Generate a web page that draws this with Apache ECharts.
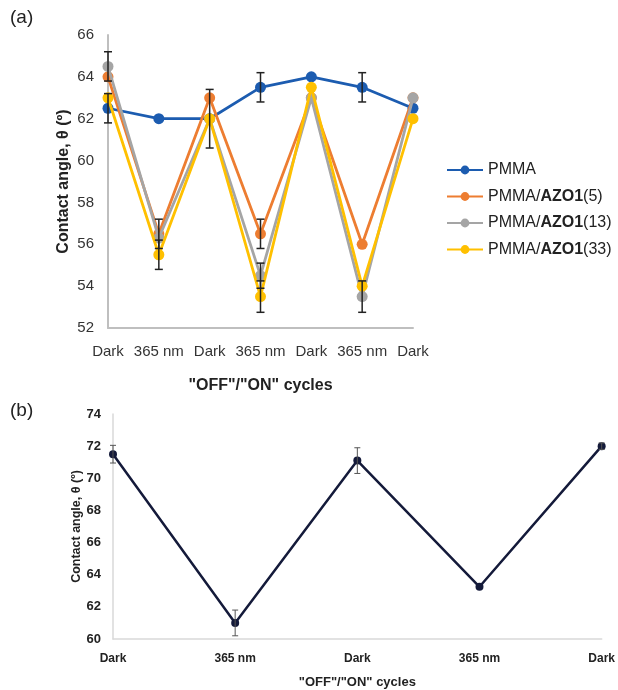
<!DOCTYPE html>
<html><head><meta charset="utf-8">
<script src="https://cdn.jsdelivr.net/npm/echarts@6/dist/echarts.min.js"></script>
<style>html,body{margin:0;padding:0;background:#fff}#c{width:618px;height:690px}</style>
</head><body><div id="c"></div>
<script>
// ---- Data (a) ----
const catsA = ['Dark','365 nm','Dark','365 nm','Dark','365 nm','Dark'];
const namesA = ['PMMA','PMMA/AZO1(5)','PMMA/AZO1(13)','PMMA/AZO1(33)'];
const pmma   = [62.5, 62.0, 62.0, 63.5, 64.0, 63.5, 62.5];
const azo5   = [64.0, 56.5, 63.0, 56.5, 63.0, 56.0, 63.0];
const azo13  = [64.5, 56.3, 62.0, 54.5, 63.0, 53.5, 63.0];
const azo33  = [63.0, 55.5, 62.0, 53.5, 63.5, 54.0, 62.0];
const errPmma  = [0.7, 0, 0, 0.7, 0, 0.7, 0];
const errAzo5  = [0, 0.7, 0, 0.7, 0, 0, 0];
const errAzo13 = [0.7, 0, 0, 0.6, 0, 0.75, 0];
const errAzo33 = [0, 0.7, 1.4, 0.75, 0, 0, 0];
const yTicksA = [52, 54, 56, 58, 60, 62, 64, 66];
// ---- Data (b) ----
const catsB = ['Dark','365 nm','Dark','365 nm','Dark'];
const valsB = [71.5, 61.0, 71.1, 63.25, 72.0];
const errB  = [0.55, 0.8, 0.8, 0, 0.2];
const yTicksB = [60, 62, 64, 66, 68, 70, 72, 74];

const colorsA = ['#1c5cb0', '#ed7d31', '#a5a5a5', '#ffc000'];
const valsA = [pmma, azo5, azo13, azo33];
const errsA = [errPmma, errAzo5, errAzo13, errAzo33];

function errSeries(vals, errs, xi, yi, color, lw, cap, z) {
  const data = [];
  vals.forEach((v, i) => { if (errs[i] > 0) data.push([i, v - errs[i], v + errs[i]]); });
  return {
    type: 'custom', xAxisIndex: xi, yAxisIndex: yi, z: z, silent: true,
    data: data,
    renderItem: function (params, api) {
      const lo = api.coord([api.value(0), api.value(1)]);
      const hi = api.coord([api.value(0), api.value(2)]);
      const st = { stroke: color, lineWidth: lw };
      return { type: 'group', children: [
        { type: 'line', shape: { x1: lo[0], y1: lo[1], x2: hi[0], y2: hi[1] }, style: st },
        { type: 'line', shape: { x1: lo[0]-cap, y1: lo[1], x2: lo[0]+cap, y2: lo[1] }, style: st },
        { type: 'line', shape: { x1: hi[0]-cap, y1: hi[1], x2: hi[0]+cap, y2: hi[1] }, style: st }
      ]};
    }
  };
}

const F = 'Liberation Sans, Arial, sans-serif';
const series = [];
namesA.forEach((n, k) => {
  series.push({
    name: n, type: 'line', xAxisIndex: 0, yAxisIndex: 0, data: valsA[k],
    symbol: 'circle', symbolSize: 11, z: 2 + k,
    lineStyle: { color: colorsA[k], width: 2.8 },
    itemStyle: { color: colorsA[k] }
  });
});
namesA.forEach((n, k) => series.push(errSeries(valsA[k], errsA[k], 0, 0, '#222', 1.5, 4, 10)));
series.push({
  name: 'B', type: 'line', xAxisIndex: 1, yAxisIndex: 1, data: valsB,
  symbol: 'circle', symbolSize: 8, z: 2,
  lineStyle: { color: '#141a3a', width: 2.5 }, itemStyle: { color: '#141a3a' }
});
series.push(errSeries(valsB, errB, 1, 1, '#555', 1, 3, 10));

const option = {
  animation: false,
  textStyle: { fontFamily: F },
  graphic: [
    { type: 'text', left: 10, top: 8, style: { text: '(a)', font: '19px ' + F, fill: '#222' } },
    { type: 'text', left: 10, top: 401, style: { text: '(b)', font: '19px ' + F, fill: '#222' } }
  ],
  legend: {
    orient: 'vertical', left: 441, top: 157, itemGap: 10.5,
    itemWidth: 36, itemHeight: 11,
    data: namesA,
    formatter: function (n) { return n.replace('AZO1', '{b|AZO1}'); },
    textStyle: { fontSize: 16, color: '#222', fontFamily: F, rich: { b: { fontWeight: 'bold', fontSize: 16, color: '#222', fontFamily: F } } }
  },
  grid: [
    { left: 108, right: 205, top: 35, bottom: 362 },
    { left: 113, right: 15, top: 414, bottom: 51 }
  ],
  xAxis: [
    { type: 'category', gridIndex: 0, data: catsA, boundaryGap: false,
      axisLine: { lineStyle: { color: '#bfbfbf', width: 2 } }, axisTick: { show: false },
      axisLabel: { interval: 0, fontSize: 15, color: '#333', margin: 16 },
      name: '"OFF"/"ON" cycles', nameLocation: 'middle', nameGap: 50,
      nameTextStyle: { fontSize: 16, fontWeight: 'bold', color: '#222' } },
    { type: 'category', gridIndex: 1, data: catsB, boundaryGap: false,
      axisLine: { lineStyle: { color: '#d9d9d9', width: 1.5 } }, axisTick: { show: false },
      axisLabel: { interval: 0, fontSize: 12, fontWeight: 'bold', color: '#222', margin: 14 },
      name: '"OFF"/"ON" cycles', nameLocation: 'middle', nameGap: 37,
      nameTextStyle: { fontSize: 13, fontWeight: 'bold', color: '#222' } }
  ],
  yAxis: [
    { type: 'value', gridIndex: 0, min: yTicksA[0], max: yTicksA[yTicksA.length-1], interval: 2,
      axisLine: { show: true, lineStyle: { color: '#bfbfbf', width: 2 } }, axisTick: { show: false },
      splitLine: { show: false },
      axisLabel: { fontSize: 15, color: '#333', margin: 14 },
      name: 'Contact angle, θ (º)', nameLocation: 'middle', nameGap: 36,
      nameTextStyle: { fontSize: 16, fontWeight: 'bold', color: '#222' } },
    { type: 'value', gridIndex: 1, min: yTicksB[0], max: yTicksB[yTicksB.length-1], interval: 2,
      axisLine: { show: true, lineStyle: { color: '#d9d9d9', width: 1.5 } }, axisTick: { show: false },
      splitLine: { show: false },
      axisLabel: { fontSize: 13, fontWeight: 'bold', color: '#222', margin: 12 },
      name: 'Contact angle, θ (º)', nameLocation: 'middle', nameGap: 30, nameMoveOverlap: false,
      nameTextStyle: { fontSize: 12.5, fontWeight: 'bold', color: '#222' } }
  ],
  series: series
};
const chart = echarts.init(document.getElementById('c'), null, { renderer: 'canvas' });
chart.setOption(option);
</script>
</body></html>
